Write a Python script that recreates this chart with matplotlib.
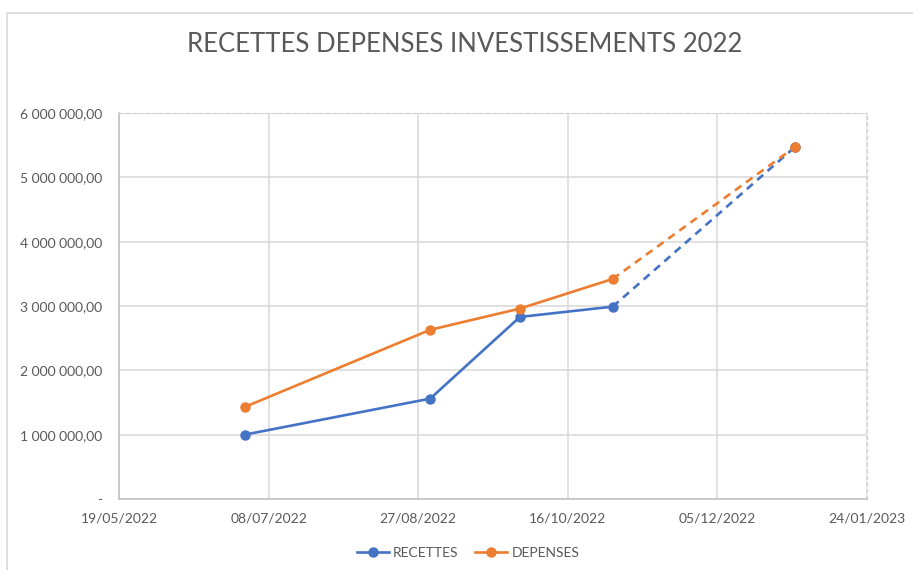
import matplotlib.pyplot as plt
import matplotlib.dates as mdates
from matplotlib.patches import Rectangle
from matplotlib.ticker import FuncFormatter
import numpy as np

plt.rcParams['font.family'] = ['Lato', 'DejaVu Sans']

dates = np.array(['2022-06-30', '2022-08-31', '2022-09-30', '2022-10-31', '2022-12-31'],
                 dtype='datetime64[D]')
recettes = [1000000, 1560000, 2830000, 2990000, 5475000]
depenses = [1430000, 2630000, 2960000, 3420000, 5475000]
series_names = ['RECETTES', 'DEPENSES']
colors = ['#4472C4', '#ED7D31']

x_start = np.datetime64('2022-05-19')
x_end = np.datetime64('2023-01-24')
x_ticks = np.arange(x_start, x_end + np.timedelta64(1, 'D'), np.timedelta64(50, 'D'))

grey = '#595959'

fig = plt.figure(figsize=(9.13, 5.70), dpi=100)
ax = fig.add_axes([119 / 913, 1 - 499 / 570, (867 - 119) / 913, (499 - 113) / 570])

# outer chart border (only top and left visible in the reference)
fig.patches.append(Rectangle((7 / 913, -0.1), 1.2, 1 - 13 / 570 + 0.1,
                             transform=fig.transFigure, fill=False,
                             edgecolor='#d9d9d9', linewidth=1.2))

for vals, name, col in zip([recettes, depenses], series_names, colors):
    # solid part up to the 4th point, dashed projection to the last
    ax.plot(dates[:4], vals[:4], color=col, lw=1.9, zorder=3)
    ax.plot(dates[3:], vals[3:], color=col, lw=1.9, ls=(0, (3, 2.2)), zorder=3)
    ax.plot(dates, vals, 'o', color=col, ms=6.5, zorder=4)
    ax.plot([], [], '-o', color=col, lw=1.9, ms=6.5, label=name)

ax.set_xlim(x_start, x_end)
ax.set_ylim(0, 6000000)
ax.set_xticks(x_ticks)
ax.xaxis.set_major_formatter(mdates.DateFormatter('%d/%m/%Y'))
ax.set_yticks(np.arange(0, 6000001, 1000000))


def fmt_money(v, pos):
    if v == 0:
        return '-'
    s = f'{v:,.2f}'.replace(',', ' ').replace('.', ',')
    return s


ax.yaxis.set_major_formatter(FuncFormatter(fmt_money))
ax.tick_params(axis='both', length=0, labelsize=10, colors=grey, pad=10)
ax.tick_params(axis='y', pad=12)

ax.grid(True, color='#d9d9d9', lw=1.1, zorder=0)
ax.set_axisbelow(True)

for side in ['left', 'bottom']:
    ax.spines[side].set_color('#bfbfbf')
    ax.spines[side].set_linewidth(1.1)
ax.spines['top'].set_color('#d0d0d0')
ax.spines['top'].set_linestyle((0, (3, 3)))
ax.spines['right'].set_color('#c5d3e8')
ax.spines['right'].set_linestyle((0, (3, 3)))

fig.text(0.509, 1 - 45 / 570, 'RECETTES DEPENSES INVESTISSEMENTS 2022',
         ha='center', va='center', fontsize=18.5, color=grey)

fig.legend(loc='center', bbox_to_anchor=(468 / 913, 1 - 553 / 570), ncol=2,
           frameon=False, fontsize=10, labelcolor=grey, handlelength=2.3,
           columnspacing=1.2, handletextpad=0.3)

fig.savefig('out.png', dpi=100)
